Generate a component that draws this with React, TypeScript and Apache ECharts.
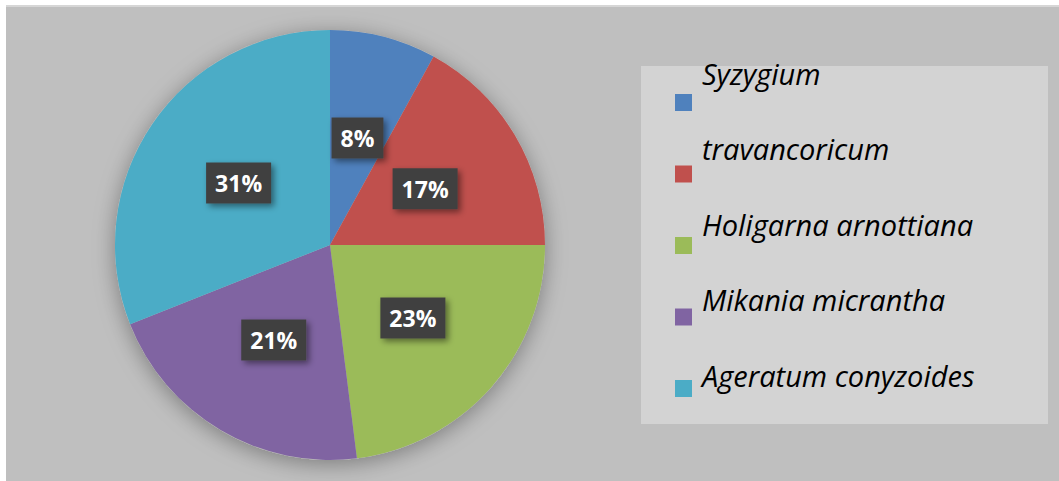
import React, { useEffect, useRef } from "react";
import * as echarts from "echarts";

// Categories as shown in the legend (in slice order, clockwise from 12 o'clock)
const categories = [
  "Syzygium",
  "travancoricum",
  "Holigarna arnottiana",
  "Mikania micrantha",
  "Ageratum conyzoides",
];
// Percentages as printed on the slices
const values = [8, 17, 23, 21, 31];
const colors = ["#4f81bd", "#c0504d", "#9bbb59", "#8064a2", "#4bacc6"];

export default function App() {
  const ref = useRef<HTMLDivElement>(null);

  useEffect(() => {
    if (!ref.current) return;
    const chart = echarts.init(ref.current, undefined, { renderer: "svg" });
    const data = categories.map((name, i) => ({
      name,
      value: values[i],
      itemStyle: { color: colors[i] },
    }));
    chart.setOption({
      animation: false,
      backgroundColor: "#ffffff",
      graphic: [
        {
          type: "rect",
          z: -10,
          shape: { x: 6, y: 5, width: 1053, height: 476 },
          style: { fill: "#bfbfbf" },
        },
        {
          type: "rect",
          z: -9,
          shape: { x: 6, y: 5, width: 1053, height: 2 },
          style: { fill: "#d6d6d6" },
        },
        {
          type: "rect",
          z: -8,
          shape: { x: 641, y: 66, width: 407, height: 358 },
          style: { fill: "#d3d3d3" },
        },
      ],
      legend: [
        {
          orient: "vertical",
          left: 675,
          top: 94,
          padding: 0,
          itemWidth: 17,
          itemHeight: 17,
          itemGap: 54.5,
          icon: "rect",
          selectedMode: false,
          data: categories,
          formatter: () => "",
          textStyle: { fontSize: 1, lineHeight: 1 },
        },
        {
          orient: "vertical",
          left: 697,
          top: 58,
          padding: 0,
          itemWidth: 0,
          itemHeight: 1,
          itemGap: 45.5,
          icon: "none",
          selectedMode: false,
          data: categories,
          textStyle: {
            fontFamily: "Open Sans",
            fontStyle: "italic",
            fontSize: 29,
            lineHeight: 30,
            color: "#000000",
          },
        },
      ],
      series: [
        {
          type: "pie",
          silent: true,
          center: [330, 245],
          radius: 215,
          z: 1,
          label: { show: false },
          labelLine: { show: false },
          itemStyle: {
            color: "#bfbfbf",
            shadowBlur: 22,
            shadowColor: "rgba(0,0,0,0.35)",
            shadowOffsetY: 4,
          },
          data: [{ name: "_shadow", value: 1 }],
        },
        {
          type: "pie",
          center: [330, 245],
          radius: 215,
          startAngle: 90,
          clockwise: true,
          z: 2,
          data,
          itemStyle: { borderWidth: 0 },
          labelLine: { show: false },
          label: {
            show: true,
            position: "inside",
            formatter: "{d}%",
            color: "#ffffff",
            fontFamily: "Open Sans",
            fontWeight: "bold",
            fontSize: 23,
            lineHeight: 23,
            backgroundColor: "#404040",
            padding: [9, 9, 9, 9],
            shadowBlur: 6,
            shadowColor: "rgba(0,0,0,0.45)",
            shadowOffsetX: 3,
            shadowOffsetY: 3,
          },
          emphasis: { disabled: true },
        },
      ],
    });
    return () => chart.dispose();
  }, []);

  return (
    <div
      ref={ref}
      style={{ position: "absolute", left: 0, top: 0, width: 1059, height: 481 }}
    />
  );
}
